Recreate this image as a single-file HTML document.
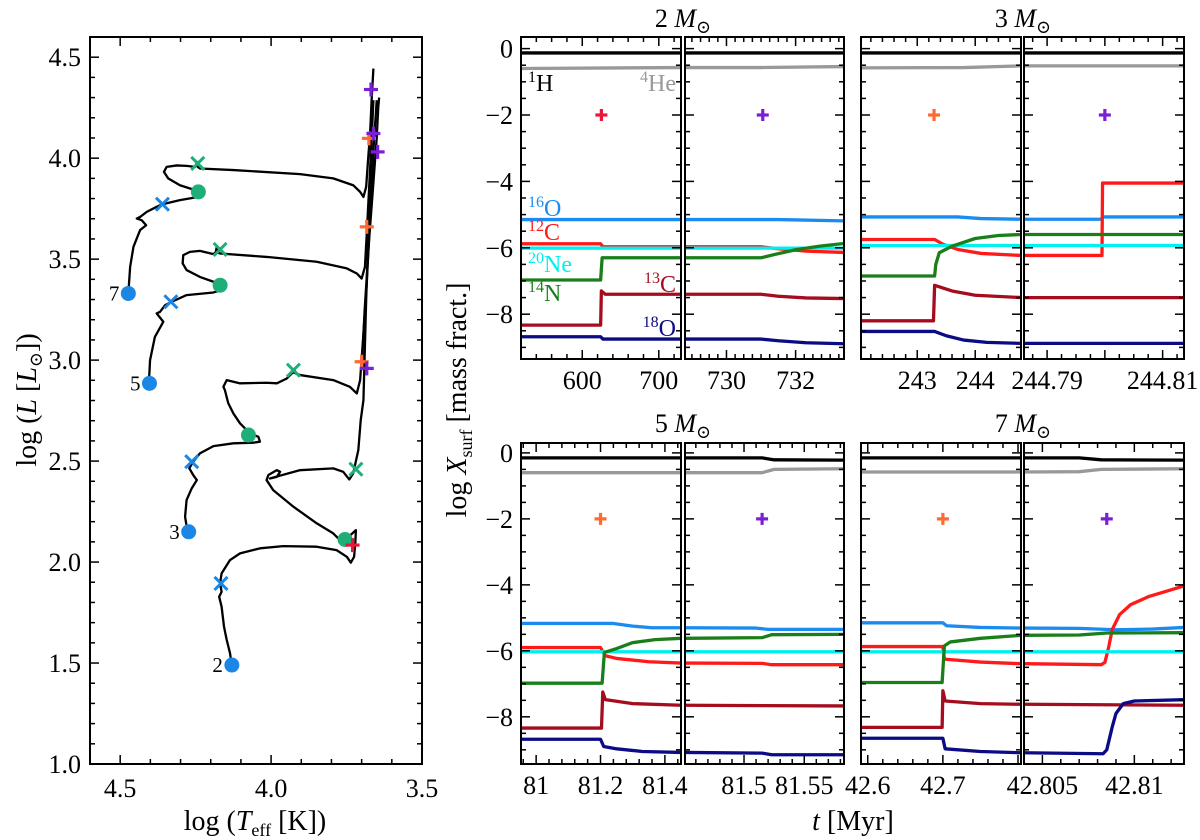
<!DOCTYPE html>
<html><head><meta charset="utf-8"><style>
html,body{margin:0;padding:0;background:#fff;}
svg{display:block;}
svg text{font-family:"Liberation Serif","DejaVu Serif",serif;}
</style></head><body>
<svg id="fig" width="1200" height="840" viewBox="0 0 1200 840" xmlns="http://www.w3.org/2000/svg"></svg>
<script>
// ---------- HR diagram data (logTeff, logL) ----------
const hr7_T=[4.473,4.467,4.456,4.434,4.414,4.429,4.445,4.434,4.412,4.379,4.360,4.302,4.252,4.241,4.258,4.302,4.341,4.355,4.346,4.313,4.280,4.252,4.241,4.246,4.249,4.236,4.125,3.904,3.794,3.728,3.705,3.694,3.685,3.678,3.672,3.667,3.661];
const hr7_L=[3.330,3.462,3.561,3.644,3.668,3.693,3.701,3.709,3.734,3.759,3.772,3.792,3.805,3.825,3.845,3.866,3.900,3.932,3.957,3.964,3.962,3.957,3.974,3.982,3.965,3.949,3.941,3.921,3.900,3.866,3.833,3.808,3.858,4.006,4.122,4.287,4.444];
const hr5_T=[4.405,4.401,4.385,4.357,4.370,4.379,4.368,4.351,4.329,4.280,4.191,4.164,4.169,4.191,4.236,4.280,4.293,4.291,4.269,4.236,4.191,4.175,4.180,4.183,4.169,4.015,3.849,3.749,3.716,3.700,3.689,3.683,3.675,3.667,3.661];
const hr5_L=[2.885,3.000,3.115,3.190,3.214,3.231,3.239,3.272,3.289,3.322,3.335,3.347,3.371,3.388,3.412,3.446,3.479,3.520,3.536,3.541,3.525,3.545,3.561,3.536,3.528,3.511,3.487,3.454,3.429,3.404,3.462,3.627,3.858,4.089,4.287];
const hr3_T=[4.274,4.285,4.280,4.263,4.246,4.258,4.271,4.258,4.236,4.191,4.125,4.059,4.037,4.042,4.070,4.103,4.125,4.142,4.153,4.158,4.147,4.103,4.015,3.981,3.948,3.926,3.921,3.932,3.904,3.794,3.739,3.716,3.705,3.694,3.683,3.672,3.661,3.650];
const hr3_L=[2.125,2.224,2.307,2.365,2.406,2.431,2.464,2.497,2.538,2.574,2.588,2.591,2.596,2.620,2.637,2.687,2.736,2.787,2.851,2.868,2.901,2.885,2.888,2.885,2.909,2.942,2.947,2.942,2.926,2.901,2.868,2.835,2.901,3.132,3.380,3.709,4.040,4.287];
const hr2_T=[4.130,4.136,4.147,4.156,4.164,4.172,4.164,4.169,4.164,4.136,4.103,4.037,3.960,3.849,3.783,3.749,3.736,3.725,3.721,3.719,3.755,3.768,3.755,3.794,3.849,3.926,3.993,4.015,4.009,3.981,3.970,3.981,4.004,3.904,3.794,3.761,3.741,3.728,3.711,3.703,3.694,3.685,3.674,3.666];
const hr2_L=[1.482,1.548,1.614,1.680,1.779,1.828,1.853,1.894,1.944,2.010,2.043,2.068,2.079,2.076,2.059,2.026,1.997,2.026,2.093,2.158,2.109,2.119,2.084,2.142,2.192,2.274,2.356,2.406,2.431,2.455,2.447,2.422,2.414,2.455,2.464,2.447,2.409,2.439,2.554,2.703,2.802,3.297,3.792,4.188];
const hrX_T=[3.700,3.690,3.675,3.660,3.650,3.645,3.642];
const hrX_L=[2.95,3.25,3.60,3.90,4.10,4.25,4.30];
const zams_T=[4.473,4.403,4.273,4.130]; const zams_L=[3.33,2.885,2.15,1.49]; const zams_lab=["7","5","3","2"];
const tams_T=[4.360,4.332,4.263,4.166]; const tams_L=[3.772,3.289,2.497,1.894];
const heb_T=[4.241,4.169,4.075,3.755]; const heb_L=[3.833,3.371,2.629,2.112];
const hex_T=[4.243,4.169,3.926,3.719]; const hex_L=[3.974,3.548,2.950,2.460];
const redp_T=[3.730]; const redp_L=[2.084];
const orp_T=[3.676,3.683,3.700]; const orp_L=[4.098,3.660,2.992];
const pup_T=[3.669,3.661,3.647,3.683]; const pup_L=[4.340,4.122,4.031,2.959];
const hrXticks=[4.5,4.0,3.5]; const hrYticks=[1.0,1.5,2.0,2.5,3.0,3.5,4.0,4.5];

// ---------- abundance panels: [t (Myr), log X] ----------
const m2a_H=[[520,-0.13],[729,-0.13]];
const m2a_He=[[520,-0.6],[729,-0.57]];
const m2a_O16=[[520,-5.15],[729,-5.15]];
const m2a_C12=[[520,-5.88],[624,-5.88],[627,-5.97],[729,-5.97]];
const m2a_Ne=[[520,-6.01],[729,-6.01]];
const m2a_N14=[[520,-6.97],[624,-6.97],[626,-6.3],[729,-6.3]];
const m2a_C13=[[520,-8.33],[624,-8.33],[625,-7.3],[630,-7.4],[729,-7.4]];
const m2a_O18=[[520,-8.68],[624,-8.68],[627,-8.75],[729,-8.75]];
const m2b_H=[[728.8,-0.13],[733.4,-0.13]];
const m2b_He=[[728.8,-0.57],[731,-0.57],[733.4,-0.54]];
const m2b_O16=[[728.8,-5.15],[731.5,-5.15],[733.4,-5.19]];
const m2b_C12=[[728.8,-5.97],[731,-5.97],[731.5,-6.03],[732.3,-6.1],[733.4,-6.14]];
const m2b_Ne=[[728.8,-6.01],[733.4,-6.01]];
const m2b_N14=[[728.8,-6.3],[731,-6.3],[731.4,-6.2],[732,-6.06],[732.7,-5.95],[733.4,-5.87]];
const m2b_C13=[[728.8,-7.4],[731,-7.4],[731.5,-7.46],[732.3,-7.51],[733.4,-7.53]];
const m2b_O18=[[728.8,-8.75],[731,-8.75],[731.5,-8.8],[732.3,-8.86],[733.4,-8.89]];
const m3a_H=[[242.03,-0.13],[244.79,-0.13]];
const m3a_He=[[242.03,-0.58],[243.8,-0.57],[244.79,-0.52]];
const m3a_O16=[[242.03,-5.07],[243.7,-5.07],[244.1,-5.12],[244.79,-5.14]];
const m3a_C12=[[242.03,-5.75],[243.3,-5.75],[243.45,-5.9],[243.7,-6.05],[244.1,-6.17],[244.79,-6.23]];
const m3a_Ne=[[242.03,-5.93],[244.79,-5.93]];
const m3a_N14=[[242.03,-6.85],[243.3,-6.85],[243.32,-6.5],[243.38,-6.15],[243.6,-5.95],[244.0,-5.72],[244.4,-5.63],[244.79,-5.6]];
const m3a_C13=[[242.03,-8.2],[243.28,-8.2],[243.3,-7.13],[243.6,-7.3],[244.0,-7.43],[244.79,-7.5]];
const m3a_O18=[[242.03,-8.52],[243.3,-8.52],[243.5,-8.65],[243.8,-8.78],[244.2,-8.85],[244.79,-8.88]];
const m3b_H=[[244.786,-0.13],[244.8137,-0.13]];
const m3b_He=[[244.786,-0.52],[244.8137,-0.52]];
const m3b_O16=[[244.786,-5.14],[244.7993,-5.14],[244.7997,-5.07],[244.8137,-5.07]];
const m3b_C12=[[244.786,-6.23],[244.7995,-6.23],[244.7996,-4.05],[244.8137,-4.05]];
const m3b_Ne=[[244.786,-5.93],[244.8137,-5.93]];
const m3b_N14=[[244.786,-5.6],[244.8137,-5.6]];
const m3b_C13=[[244.786,-7.5],[244.8137,-7.5]];
const m3b_O18=[[244.786,-8.88],[244.8137,-8.88]];
const m5a_H=[[80.953,-0.15],[81.45,-0.15]];
const m5a_He=[[80.953,-0.6],[81.45,-0.6]];
const m5a_O16=[[80.953,-5.17],[81.24,-5.17],[81.3,-5.25],[81.36,-5.3],[81.45,-5.3]];
const m5a_C12=[[80.953,-5.9],[81.2,-5.9],[81.215,-6.15],[81.25,-6.23],[81.35,-6.33],[81.45,-6.37]];
const m5a_Ne=[[80.953,-6.03],[81.45,-6.03]];
const m5a_N14=[[80.953,-6.98],[81.205,-6.98],[81.212,-6.05],[81.25,-5.93],[81.3,-5.75],[81.37,-5.66],[81.45,-5.62]];
const m5a_C13=[[80.953,-8.34],[81.203,-8.34],[81.207,-7.25],[81.215,-7.48],[81.3,-7.6],[81.45,-7.65]];
const m5a_O18=[[80.953,-8.68],[81.2,-8.68],[81.21,-8.9],[81.25,-8.97],[81.33,-9.05],[81.45,-9.08]];
const m5b_H=[[81.451,-0.15],[81.515,-0.15],[81.525,-0.21],[81.583,-0.22]];
const m5b_He=[[81.451,-0.6],[81.515,-0.6],[81.525,-0.5],[81.583,-0.48]];
const m5b_O16=[[81.451,-5.3],[81.51,-5.31],[81.52,-5.35],[81.583,-5.35]];
const m5b_C12=[[81.451,-6.37],[81.515,-6.38],[81.523,-6.42],[81.583,-6.42]];
const m5b_Ne=[[81.451,-6.03],[81.583,-6.03]];
const m5b_N14=[[81.451,-5.62],[81.515,-5.6],[81.523,-5.51],[81.583,-5.5]];
const m5b_C13=[[81.451,-7.65],[81.583,-7.67]];
const m5b_O18=[[81.451,-9.08],[81.515,-9.1],[81.523,-9.15],[81.583,-9.15]];
const m7a_H=[[42.591,-0.15],[42.804,-0.15]];
const m7a_He=[[42.591,-0.58],[42.804,-0.58]];
const m7a_O16=[[42.591,-5.15],[42.7,-5.15],[42.705,-5.24],[42.75,-5.29],[42.804,-5.31]];
const m7a_C12=[[42.591,-5.87],[42.7,-5.87],[42.702,-6.25],[42.75,-6.34],[42.804,-6.39]];
const m7a_Ne=[[42.591,-6.03],[42.804,-6.03]];
const m7a_N14=[[42.591,-6.96],[42.699,-6.96],[42.702,-5.85],[42.71,-5.73],[42.75,-5.62],[42.804,-5.53]];
const m7a_C13=[[42.591,-8.32],[42.699,-8.32],[42.7,-7.21],[42.703,-7.52],[42.75,-7.6],[42.804,-7.62]];
const m7a_O18=[[42.591,-8.65],[42.7,-8.65],[42.703,-8.97],[42.75,-9.05],[42.804,-9.09]];
const m7b_H=[[42.804,-0.15],[42.807,-0.15],[42.8082,-0.21],[42.8127,-0.22]];
const m7b_He=[[42.804,-0.58],[42.807,-0.57],[42.8082,-0.5],[42.8127,-0.48]];
const m7b_O16=[[42.804,-5.31],[42.807,-5.32],[42.809,-5.36],[42.811,-5.34],[42.8127,-5.29]];
const m7b_C12=[[42.804,-6.39],[42.8082,-6.42],[42.8084,-6.35],[42.8086,-5.9],[42.8088,-5.35],[42.8092,-4.9],[42.8098,-4.6],[42.8108,-4.35],[42.812,-4.15],[42.8127,-4.03]];
const m7b_Ne=[[42.804,-6.03],[42.8127,-6.03]];
const m7b_N14=[[42.804,-5.53],[42.807,-5.52],[42.8085,-5.46],[42.8127,-5.45]];
const m7b_C13=[[42.804,-7.62],[42.8127,-7.65]];
const m7b_O18=[[42.804,-9.09],[42.8083,-9.12],[42.8085,-9.0],[42.8088,-8.3],[42.809,-7.9],[42.8094,-7.6],[42.81,-7.52],[42.8127,-7.48]];
const plusT=[625,731.05,243.29,244.8,81.2,81.515,42.7,42.8085];
const plusY=[-2,-2,-2,-2,-2,-2,-2,-2];
const yTicks=[0,-2,-4,-6,-8];

const NS="http://www.w3.org/2000/svg";
const FONT='"Liberation Serif", "DejaVu Serif", serif';
const svg=document.getElementById('fig');
function mk(tag,attrs,parent){const e=document.createElementNS(NS,tag);for(const k in attrs)e.setAttribute(k,attrs[k]);(parent||svg).appendChild(e);return e;}
function txt(s,x,y,size,anchor,parent,fill){const t=mk('text',{x:x,y:y,'font-size':size,'font-family':FONT,'text-anchor':anchor||'middle',fill:fill||'#000'},parent);t.innerHTML=s;return t;}

const COL={H:'#000',He:'#999',O16:'#1a8cf0',C12:'#ff1a1a',Ne:'#00f0f0',N14:'#1a7f1a',C13:'#a50d1e',O18:'#0b0b85'};
const PLUSC=['#e8173a','#7a1fd6','#ff6a33','#7a1fd6','#ff6a33','#7a1fd6','#ff6a33','#7a1fd6'];

function plus(x,y,c,s,parent){const g=mk('g',{},parent);mk('line',{x1:x-s,y1:y,x2:x+s,y2:y,stroke:c,'stroke-width':3.2},g);mk('line',{x1:x,y1:y-s,x2:x,y2:y+s,stroke:c,'stroke-width':3.2},g);return g;}
function cross(x,y,c,s,parent){const g=mk('g',{},parent);mk('line',{x1:x-s,y1:y-s,x2:x+s,y2:y+s,stroke:c,'stroke-width':3},g);mk('line',{x1:x-s,y1:y+s,x2:x+s,y2:y-s,stroke:c,'stroke-width':3},g);return g;}

// ---------- HR diagram ----------
const HR={x0:90,x1:422,y0:37,y1:764,tmin:3.5,tmax:4.6,lmin:1.0,lmax:4.6};
function hx(T){return HR.x0+(HR.tmax-T)/(HR.tmax-HR.tmin)*(HR.x1-HR.x0);}
function hy(L){return HR.y1-(L-HR.lmin)/(HR.lmax-HR.lmin)*(HR.y1-HR.y0);}
const hrg=mk('g',{});


function track(T,L,name){const p=mk('polyline',{points:T.map((t,i)=>hx(t)+','+hy(L[i])).join(' '),fill:'none',stroke:'#000','stroke-width':2.3,'stroke-linejoin':'round'},hrg);

}
track(hr7_T,hr7_L,'track-7msun');track(hr5_T,hr5_L,'track-5msun');track(hr3_T,hr3_L,'track-3msun');track(hr2_T,hr2_L,'track-2msun');track(hrX_T,hrX_L,'track-agb-extra');
for(let i=0;i<heb_T.length;i++){const c=mk('circle',{cx:hx(heb_T[i]),cy:hy(heb_L[i]),r:7.5,fill:'#1fae78'},hrg);

}
for(let i=0;i<zams_T.length;i++){const c=mk('circle',{cx:hx(zams_T[i]),cy:hy(zams_L[i]),r:7.5,fill:'#1a86e6'},hrg);


const t=txt(zams_lab[i],hx(zams_T[i])-9,hy(zams_L[i])+7,21,'end',hrg);

}
for(let i=0;i<tams_T.length;i++){const g=cross(hx(tams_T[i]),hy(tams_L[i]),'#1a86e6',6.5,hrg);

}
for(let i=0;i<hex_T.length;i++){const g=cross(hx(hex_T[i]),hy(hex_L[i]),'#1fae78',6.5,hrg);

}
for(let i=0;i<redp_T.length;i++){const g=plus(hx(redp_T[i]),hy(redp_L[i]),'#e8173a',7,hrg);

}
for(let i=0;i<orp_T.length;i++){const g=plus(hx(orp_T[i]),hy(orp_L[i]),'#ff6a33',7,hrg);

}
for(let i=0;i<pup_T.length;i++){const g=plus(hx(pup_T[i]),hy(pup_L[i]),'#7a1fd6',7,hrg);

}
const hf=mk('rect',{x:HR.x0,y:HR.y0,width:HR.x1-HR.x0,height:HR.y1-HR.y0,fill:'none',stroke:'#000','stroke-width':2},hrg);


for(let v=3.5;v<=4.601;v+=0.1){const x=hx(v);const maj=Math.abs(v*2-Math.round(v*2))<1e-6;const l=maj?9:5;
mk('line',{x1:x,y1:HR.y1,x2:x,y2:HR.y1-l,stroke:'#000','stroke-width':1.5},hrg);mk('line',{x1:x,y1:HR.y0,x2:x,y2:HR.y0+l,stroke:'#000','stroke-width':1.5},hrg);}
for(let v=1.0;v<=4.601;v+=0.1){const y=hy(v);const maj=Math.abs(v*2-Math.round(v*2))<1e-6;const l=maj?9:5;
mk('line',{x1:HR.x0,y1:y,x2:HR.x0+l,y2:y,stroke:'#000','stroke-width':1.5},hrg);mk('line',{x1:HR.x1,y1:y,x2:HR.x1-l,y2:y,stroke:'#000','stroke-width':1.5},hrg);}
hrXticks.forEach(v=>{const t=txt(v.toFixed(1),hx(v),797,26,'middle',hrg);

});
hrYticks.forEach(v=>{const t=txt(v.toFixed(1),81,hy(v)+9,26,'end',hrg);

});
const hxl=txt('log (<tspan font-style="italic">T</tspan><tspan font-size="18" dy="6">eff</tspan><tspan dy="-6"> [K])</tspan>',255,830,28,'middle',hrg);


const hyl=txt('log (<tspan font-style="italic">L</tspan> [<tspan font-style="italic">L</tspan><tspan font-size="18" dy="6">⊙</tspan><tspan dy="-6">])</tspan>',0,0,28,'middle',hrg);
hyl.setAttribute('transform','translate(36,400) rotate(-90)');



// ---------- abundance panels ----------
const SPEC=['H','He','O16','C12','Ne','N14','C13','O18'];
const PANELS=[
 {id:'m2a',x0:521,x1:681,y0:37,y1:359,t0:520,t1:729,maj:100,min:20,lab:[600,700],dec:0,ylab:true},
 {id:'m2b',x0:685,x1:844,y0:37,y1:359,t0:728.8,t1:733.4,maj:2,min:0.25,lab:[730,732],dec:0},
 {id:'m3a',x0:861,x1:1021,y0:37,y1:359,t0:242.03,t1:244.79,maj:1,min:0.2,lab:[243,244],dec:0},
 {id:'m3b',x0:1024,x1:1184,y0:37,y1:359,t0:244.786,t1:244.8137,maj:0.01,min:0.0025,lab:[244.79,244.81],dec:2},
 {id:'m5a',x0:521,x1:681,y0:443,y1:764,t0:80.953,t1:81.45,maj:0.2,min:0.04,lab:[81,81.2,81.4],dec:-1,ylab:true},
 {id:'m5b',x0:685,x1:844,y0:443,y1:764,t0:81.451,t1:81.583,maj:0.05,min:0.01,lab:[81.5,81.55],dec:-1},
 {id:'m7a',x0:861,x1:1021,y0:443,y1:764,t0:42.591,t1:42.804,maj:0.1,min:0.02,lab:[42.6,42.7],dec:1},
 {id:'m7b',x0:1024,x1:1184,y0:443,y1:764,t0:42.804,t1:42.8127,maj:0.005,min:0.001,lab:[42.805,42.81],dec:-1}];
const DATA={m2a:[m2a_H,m2a_He,m2a_O16,m2a_C12,m2a_Ne,m2a_N14,m2a_C13,m2a_O18],m2b:[m2b_H,m2b_He,m2b_O16,m2b_C12,m2b_Ne,m2b_N14,m2b_C13,m2b_O18],
 m3a:[m3a_H,m3a_He,m3a_O16,m3a_C12,m3a_Ne,m3a_N14,m3a_C13,m3a_O18],m3b:[m3b_H,m3b_He,m3b_O16,m3b_C12,m3b_Ne,m3b_N14,m3b_C13,m3b_O18],
 m5a:[m5a_H,m5a_He,m5a_O16,m5a_C12,m5a_Ne,m5a_N14,m5a_C13,m5a_O18],m5b:[m5b_H,m5b_He,m5b_O16,m5b_C12,m5b_Ne,m5b_N14,m5b_C13,m5b_O18],
 m7a:[m7a_H,m7a_He,m7a_O16,m7a_C12,m7a_Ne,m7a_N14,m7a_C13,m7a_O18],m7b:[m7b_H,m7b_He,m7b_O16,m7b_C12,m7b_Ne,m7b_N14,m7b_C13,m7b_O18]};
PANELS.forEach((P,pi)=>{
 const ymax=P.y0<100?0.35:0.3, ymin=P.y0<100?-9.35:-9.43;
 const X=t=>P.x0+(t-P.t0)/(P.t1-P.t0)*(P.x1-P.x0);
 const Y=v=>P.y0+(ymax-v)/(ymax-ymin)*(P.y1-P.y0);
 const g=mk('g',{});
 
 
 const cid='clip'+P.id;const cp=mk('clipPath',{id:cid},g);mk('rect',{x:P.x0,y:P.y0,width:P.x1-P.x0,height:P.y1-P.y0},cp);
 const lg=mk('g',{'clip-path':'url(#'+cid+')'},g);
 DATA[P.id].forEach((arr,si)=>{const pl=mk('polyline',{points:arr.map(d=>X(d[0])+','+Y(d[1])).join(' '),fill:'none',stroke:COL[SPEC[si]],'stroke-width':3.3,'stroke-linejoin':'round'},lg);
 
 });
 const pm=plus(X(plusT[pi]),Y(plusY[pi]),PLUSC[pi],6,g);
 
 
 mk('rect',{x:P.x0,y:P.y0,width:P.x1-P.x0,height:P.y1-P.y0,fill:'none',stroke:'#000','stroke-width':2},g);
 const k0=Math.ceil(P.t0/P.min-1e-6),k1=Math.floor(P.t1/P.min+1e-6);
 for(let k=k0;k<=k1;k++){const t=k*P.min;const r=t/P.maj;const maj=Math.abs(r-Math.round(r))<1e-4;const l=maj?9:5;const x=X(t);
  mk('line',{x1:x,y1:P.y1,x2:x,y2:P.y1-l,stroke:'#000','stroke-width':1.5},g);mk('line',{x1:x,y1:P.y0,x2:x,y2:P.y0+l,stroke:'#000','stroke-width':1.5},g);}
 for(let v=-9;v<=0;v+=0.5){const maj=(v%2===0);const l=maj?9:5;const y=Y(v);
  mk('line',{x1:P.x0,y1:y,x2:P.x0+l,y2:y,stroke:'#000','stroke-width':1.5},g);mk('line',{x1:P.x1,y1:y,x2:P.x1-l,y2:y,stroke:'#000','stroke-width':1.5},g);}
 P.lab.forEach(v=>{const s=P.dec>=0?v.toFixed(P.dec):String(v);const t=txt(s,X(v),P.y1+30,26,'middle',g);
  
  });
 if(P.ylab){yTicks.forEach(v=>{const t=txt(v===0?'0':'−'+(-v),P.x0-8,Y(v)+9,26,'end',g);
  
  });}
});
[['2',683,27],['3',1023,27],['5',683,432],['7',1023,432]].forEach(a=>{const t=txt(a[0]+' <tspan font-style="italic">M</tspan><tspan font-size="18" dy="6">⊙</tspan>',a[1],a[2],26,'middle');

});
[['<tspan font-size="16" dy="-9">1</tspan><tspan dy="9">H</tspan>',528,91,'start',COL.H],
 ['<tspan font-size="16" dy="-9">4</tspan><tspan dy="9">He</tspan>',676,91,'end',COL.He],
 ['<tspan font-size="16" dy="-9">16</tspan><tspan dy="9">O</tspan>',528,216,'start',COL.O16],
 ['<tspan font-size="16" dy="-9">12</tspan><tspan dy="9">C</tspan>',528,240,'start',COL.C12],
 ['<tspan font-size="16" dy="-9">20</tspan><tspan dy="9">Ne</tspan>',528,272,'start',COL.Ne],
 ['<tspan font-size="16" dy="-9">14</tspan><tspan dy="9">N</tspan>',528,301,'start',COL.N14],
 ['<tspan font-size="16" dy="-9">13</tspan><tspan dy="9">C</tspan>',676,292,'end',COL.C13],
 ['<tspan font-size="16" dy="-9">18</tspan><tspan dy="9">O</tspan>',676,336,'end',COL.O18]].forEach(a=>{
 const t=txt(a[0],a[1],a[2],24,a[3],svg,a[4]);
 
 });
const ryl=txt('log <tspan font-style="italic">X</tspan><tspan font-size="18" dy="6">surf</tspan><tspan dy="-6"> [mass fract.]</tspan>',0,0,28,'middle');
ryl.setAttribute('transform','translate(466,400) rotate(-90)');


const rxl=txt('<tspan font-style="italic">t</tspan> [Myr]',853,830,28,'middle');


</script>
</body></html>
